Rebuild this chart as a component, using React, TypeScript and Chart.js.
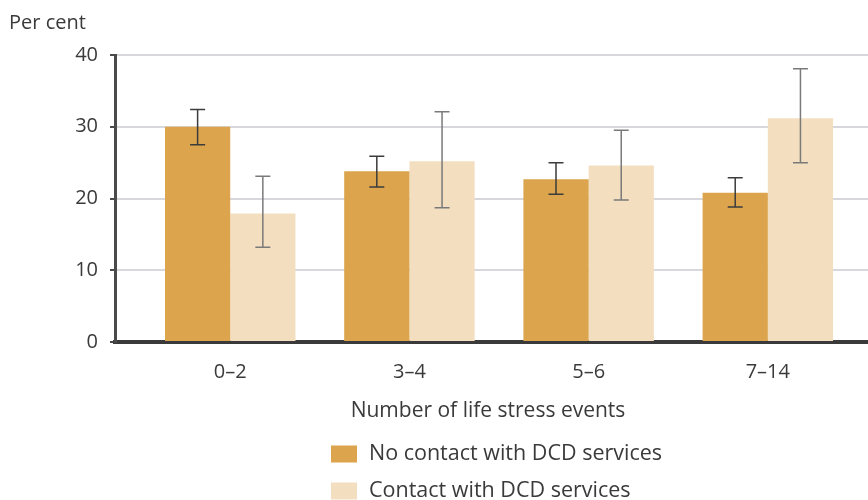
import React, { useEffect, useRef } from "react";
import { Chart, registerables } from "chart.js";

Chart.register(...registerables);

const categories = ["0–2", "3–4", "5–6", "7–14"];
const noContact = [30.0, 23.8, 22.7, 20.8];
const noContactLow = [27.5, 21.6, 20.6, 18.8];
const noContactHigh = [32.4, 25.9, 25.0, 22.9];
const contact = [17.9, 25.2, 24.6, 31.2];
const contactLow = [13.2, 18.7, 19.8, 25.0];
const contactHigh = [23.1, 32.1, 29.5, 38.1];
const seriesLabels = ["No contact with DCD services", "Contact with DCD services"];
const seriesColors = ["#DBA44D", "#F3DFC0"];
const errorColors = ["#3c3c3c", "#7a7a7a"];
const yTicks = [0, 10, 20, 30, 40];

const FONT = "'Open Sans', 'Noto Sans', sans-serif";
const TEXT = "#3a3a3a";

const errorBarPlugin = {
  id: "errorBars",
  afterDatasetsDraw(chart: any) {
    const ctx = chart.ctx;
    const y = chart.scales.y;
    const lows = [noContactLow, contactLow];
    const highs = [noContactHigh, contactHigh];
    chart.data.datasets.forEach((_: any, di: number) => {
      const meta = chart.getDatasetMeta(di);
      meta.data.forEach((bar: any, i: number) => {
        const x = bar.x;
        const yl = y.getPixelForValue(lows[di][i]);
        const yh = y.getPixelForValue(highs[di][i]);
        ctx.save();
        ctx.strokeStyle = errorColors[di];
        ctx.lineWidth = 1.5;
        ctx.beginPath();
        ctx.moveTo(x, yl);
        ctx.lineTo(x, yh);
        ctx.moveTo(x - 7.5, yl);
        ctx.lineTo(x + 7.5, yl);
        ctx.moveTo(x - 7.5, yh);
        ctx.lineTo(x + 7.5, yh);
        ctx.stroke();
        ctx.restore();
      });
    });
  },
};

const textPlugin = {
  id: "extraText",
  afterDraw(chart: any) {
    const ctx = chart.ctx;
    ctx.save();
    ctx.fillStyle = TEXT;
    ctx.textBaseline = "middle";
    ctx.font = `20px ${FONT}`;
    ctx.textAlign = "left";
    ctx.fillText("Per cent", 9, 23);
    ctx.textAlign = "center";
    ctx.font = `21px ${FONT}`;
    ctx.fillText("Number of life stress events", 488, 411);
    ctx.textAlign = "left";
    ctx.font = `21.5px ${FONT}`;
    const rows = [454, 491];
    seriesLabels.forEach((lab, i) => {
      ctx.fillStyle = seriesColors[i];
      ctx.fillRect(331, rows[i] - 8.5, 26, 17);
      ctx.fillStyle = TEXT;
      ctx.fillText(lab, 369, rows[i]);
    });
    ctx.restore();
  },
};

export default function App() {
  const ref = useRef<HTMLCanvasElement>(null);
  useEffect(() => {
    if (!ref.current) return;
    const chart = new Chart(ref.current, {
      type: "bar",
      data: {
        datasets: [
          {
            label: seriesLabels[0],
            data: noContact.map((v, i) => ({ x: i, y: v })),
            backgroundColor: seriesColors[0],
          },
          {
            label: seriesLabels[1],
            data: contact.map((v, i) => ({ x: i, y: v })),
            backgroundColor: seriesColors[1],
          },
        ],
      },
      options: {
        animation: false,
        responsive: false,
        maintainAspectRatio: false,
        layout: { padding: { top: 55, left: 0, right: 0, bottom: 0 } },
        datasets: { bar: { categoryPercentage: 0.728, barPercentage: 1.0 } },
        plugins: { legend: { display: false }, tooltip: { enabled: false } },
        scales: {
          x: {
            type: "linear",
            offset: false,
            min: -0.643,
            max: 3.559,
            afterBuildTicks: (scale: any) => {
              scale.ticks = categories.map((_, i) => ({ value: i }));
            },
            afterFit: (scale: any) => {
              scale.height = 158;
            },
            ticks: {
              color: TEXT,
              font: { family: FONT, size: 20 },
              padding: 18,
              callback: (v: any) => categories[v],
              autoSkip: false,
              maxRotation: 0,
            },
            grid: { color: "rgba(0,0,0,0)", drawTicks: false, offset: false },
            border: { color: "#3a3a3a", width: 4 },
          },
          y: {
            min: 0,
            max: 40,
            afterBuildTicks: (scale: any) => {
              scale.ticks = yTicks.map((v) => ({ value: v }));
            },
            afterFit: (scale: any) => {
              scale.width = 115;
            },
            ticks: {
              color: TEXT,
              font: { family: FONT, size: 20 },
              padding: 12,
            },
            grid: {
              color: "#d6d8dc",
              lineWidth: 2,
              tickColor: "#4a4a4a",
              tickLength: 5,
            },
            border: { color: "#4a4a4a", width: 3 },
          },
        },
      },
      plugins: [errorBarPlugin, textPlugin],
    });
    return () => chart.destroy();
  }, []);
  return (
    <div style={{ position: "fixed", left: 0, top: 0, width: 868, height: 500, background: "#fff" }}>
      <canvas ref={ref} width={868} height={500} style={{ width: 868, height: 500 }} />
    </div>
  );
}
